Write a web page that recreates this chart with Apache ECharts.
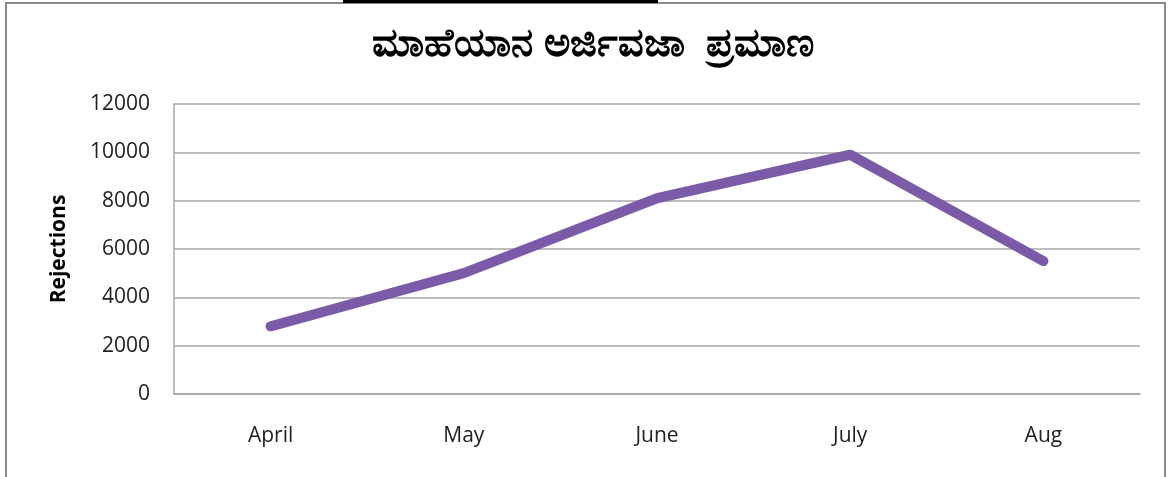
<!DOCTYPE html>
<html><head><meta charset="utf-8">
<script src="https://cdn.jsdelivr.net/npm/echarts@6/dist/echarts.min.js"></script>
<style>html,body{margin:0;padding:0;background:#fff}#c{width:1168px;height:477px}</style>
</head><body><div id="c"></div>
<script>
const titleText = 'ಮಾಹೆಯಾನ ಅರ್ಜಿವಜಾ  ಪ್ರಮಾಣ';
const yAxisName = 'Rejections';
const categories = ['April', 'May', 'June', 'July', 'Aug'];
const rejections = [2800, 5000, 8100, 9900, 5500];

const chart = echarts.init(document.getElementById('c'), null, {renderer: 'canvas'});
const font = '"Open Sans", "Noto Sans", sans-serif';
chart.setOption({
  animation: false,
  backgroundColor: '#ffffff',
  title: {
    text: titleText, left: 588, top: 20, textAlign: 'center',
    textStyle: {fontFamily: font, fontSize: 40, fontWeight: 'bold', color: '#000'}
  },
  graphic: [
    {type: 'rect', shape: {x: 6, y: 3, width: 1159, height: 480}, style: {fill: 'none', stroke: '#8a8a8a', lineWidth: 2}, silent: true},
    {type: 'rect', shape: {x: 343, y: 0, width: 315, height: 3}, style: {fill: '#000'}, silent: true}
  ],
  grid: {left: 174, right: 28, top: 104, bottom: 83, containLabel: false},
  xAxis: {
    type: 'category', data: categories, boundaryGap: true,
    axisLine: {show: true, lineStyle: {color: '#a6a6a6', width: 1.5}},
    axisTick: {show: false},
    axisLabel: {margin: 32, fontFamily: font, fontSize: 21, color: '#222'},
  },
  yAxis: {
    type: 'value', min: 0, max: 12000, interval: 2000,
    name: yAxisName, nameLocation: 'middle', nameGap: 104, nameRotate: 90,
    nameTextStyle: {fontFamily: font, fontSize: 21, fontWeight: 'bold', color: '#000'},
    axisLine: {show: true, lineStyle: {color: '#a6a6a6', width: 1.5}},
    axisTick: {show: false},
    axisLabel: {margin: 24, fontFamily: font, fontSize: 21, color: '#222', formatter: v => String(v)},
    splitLine: {lineStyle: {color: '#a6a6a6', width: 1.5}}
  },
  series: [{
    type: 'line', data: rejections, showSymbol: false, symbol: 'none',
    lineStyle: {color: '#7b5ba8', width: 10, cap: 'round', join: 'round'}
  }]
});
</script></body></html>
